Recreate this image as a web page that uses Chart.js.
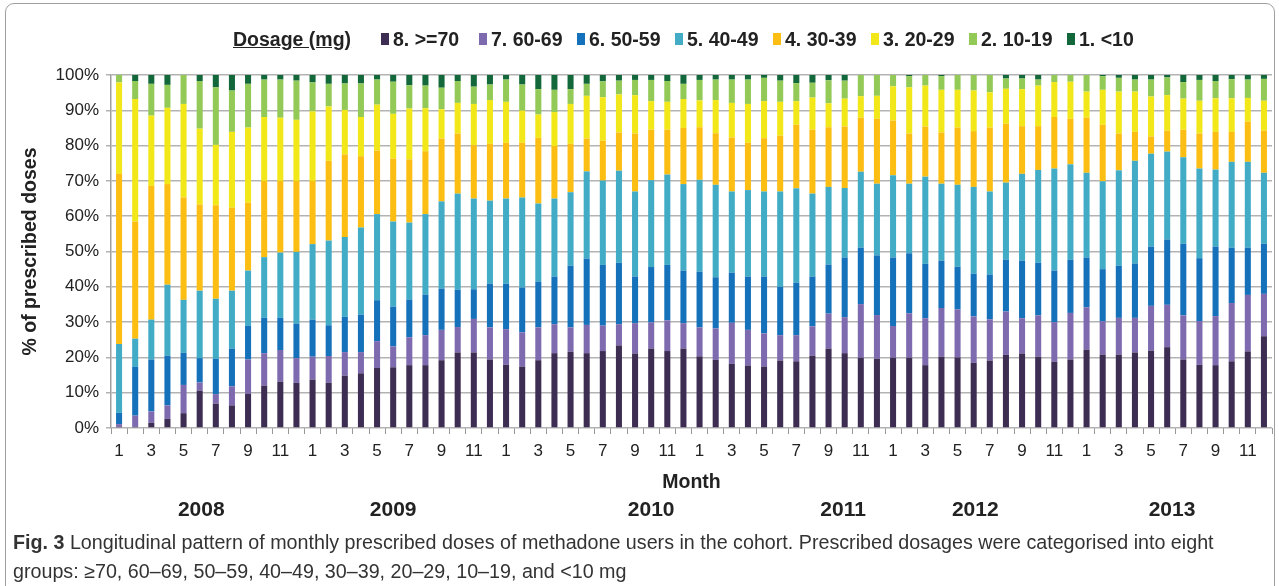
<!DOCTYPE html>
<html>
<head>
<meta charset="utf-8">
<script src="https://cdn.jsdelivr.net/npm/chart.js@4.4.0/dist/chart.umd.min.js"></script>
<style>
body { margin: 0; width: 1279px; height: 586px; overflow: hidden; background: #fff; position: relative;
  font-family: "Liberation Sans Narrow", "Liberation Sans", Arial, sans-serif; }
#frame { position: absolute; left: 5px; top: 3px; width: 1268px; height: 640px; border: 1px solid #a0a0a0; border-radius: 9px; }
#chart { position: absolute; left: 0; top: 0; }
#legend { position: absolute; left: 233px; top: 27px; height: 24px; display: flex; align-items: center; color: #222; font-weight: bold; font-size: 19.5px; }
#legend .ttl { text-decoration: underline; width: 148px; }
#legend .item { display: flex; align-items: center; width: 98px; white-space: nowrap; }
#legend .sw { width: 8px; height: 12px; margin-right: 4px; flex: none; }
#caption { position: absolute; left: 13px; top: 528px; width: 1262px; font-size: 19.7px; line-height: 29px; color: #333; white-space: nowrap; }
</style>
</head>
<body>
<div id="frame"></div>
<canvas id="chart" width="1279" height="586"></canvas>
<div id="legend"><span class="ttl">Dosage (mg)</span></div>
<div id="caption"><b>Fig. 3</b> Longitudinal pattern of monthly prescribed doses of methadone users in the cohort. Prescribed dosages were categorised into eight<br>groups: ≥70, 60–69, 50–59, 40–49, 30–39, 20–29, 10–19, and &lt;10 mg</div>
<script>
// categories
var years = ['2008', '2009', '2010', '2011', '2012', '2013'];
var months = ['1', '2', '3', '4', '5', '6', '7', '8', '9', '10', '11', '12'];

// series (% of prescribed doses), bottom to top
var s70 = [0.3,0.3,1.5,2.6,4.2,10.6,6.9,6.4,9.7,12.0,13.1,12.8, 13.7,12.8,14.8,15.5,17.0,17.2,17.8,17.8,19.2,21.4,21.4,19.4,
  17.9,17.4,19.2,21.2,21.6,21.2,21.8,23.4,21.1,22.5,21.8,22.5, 20.3,19.3,18.2,17.7,17.4,19.1,18.9,20.5,22.5,21.2,19.9,19.6,
  19.9,19.9,17.8,20.2,20.0,18.5,19.1,20.7,21.1,20.2,18.8,19.4, 22.2,20.8,20.8,21.4,21.9,22.9,19.4,17.9,17.8,18.9,21.7,26.0];
var s60 = [0.8,3.2,3.2,3.8,8.0,2.3,2.7,5.4,9.7,9.2,9.0,7.0, 6.5,7.6,6.7,6.0,7.6,5.9,7.9,8.5,8.6,7.2,9.5,9.1,
  10.1,9.7,9.3,8.2,6.9,8.0,7.2,6.0,8.6,7.4,8.7,7.2, 8.2,8.9,11.6,10.1,9.4,7.2,7.4,8.3,9.9,10.2,15.2,12.4,
  9.0,12.6,13.3,13.8,13.6,13.1,11.7,12.3,10.0,11.7,11.2,13.2, 12.0,9.4,10.4,9.8,12.7,12.0,12.5,12.4,13.9,16.5,16.0,12.0];
var s50 = [3.2,13.8,14.7,14.1,9.1,6.9,10.0,10.7,9.6,10.0,9.1,9.8, 10.5,8.7,10.0,10.6,11.6,11.3,10.7,11.5,11.7,10.6,8.4,12.4,
  12.9,12.7,13.0,13.5,17.5,18.8,17.2,17.4,13.2,15.7,15.7,14.9, 15.8,14.5,14.2,15.1,16.1,13.7,14.9,14.1,13.9,16.9,16.0,16.9,
  19.4,17.0,15.4,13.4,12.1,12.1,12.7,14.7,16.3,14.9,14.6,15.1, 14.1,14.8,14.8,15.4,16.8,18.5,20.3,17.8,19.7,15.7,13.4,14.2];
var s40 = [19.5,8.0,11.3,20.1,15.0,19.1,17.0,16.4,15.6,17.2,18.5,20.3, 21.4,24.0,22.6,24.7,24.4,24.1,21.8,22.8,24.7,27.2,25.7,23.5,
  24.1,25.5,22.1,22.1,20.8,24.7,23.9,26.1,24.1,24.6,25.6,24.5, 26.0,26.2,23.0,24.5,24.1,27.0,26.7,23.5,22.0,19.7,21.5,20.3,
  23.3,19.7,24.7,21.8,23.2,24.6,23.5,21.8,24.6,26.3,28.9,27.0, 24.0,24.9,27.0,29.1,26.3,24.9,24.5,25.4,21.8,24.3,24.3,20.1];
var s30 = [48.2,33.2,37.9,28.5,29.0,24.4,26.5,23.5,19.2,21.6,20.3,20.1, 17.9,22.6,23.4,20.2,18.0,17.8,17.9,17.8,17.8,17.0,15.1,16.1,
  15.8,15.5,18.6,14.9,13.7,9.3,11.3,10.8,16.4,14.3,12.7,15.9, 14.9,14.6,15.3,13.4,15.1,15.8,18.0,18.1,16.9,17.4,15.3,18.4,
  15.5,14.2,14.2,14.5,16.2,15.8,18.1,16.7,13.5,12.4,14.6,12.9, 15.6,16.0,10.4,8.2,4.9,5.9,7.8,9.9,10.7,8.5,11.4,11.9];
var s20 = [25.9,34.7,19.9,21.6,26.5,21.5,17.1,21.5,21.3,18.1,17.9,17.3, 19.7,15.4,12.6,11.1,13.0,12.7,14.4,12.2,8.3,8.7,11.7,12.4,
  11.6,9.1,6.6,9.6,11.3,12.1,12.3,10.8,10.9,8.1,7.9,8.2, 7.6,9.4,9.8,11.0,10.5,9.6,6.7,9.1,6.8,7.9,6.1,6.5,
  9.7,13.1,11.6,12.1,10.7,11.5,10.0,9.9,10.5,11.5,9.9,10.5, 7.4,9.9,11.9,11.4,11.3,10.1,8.8,9.3,9.5,9.5,6.7,8.5];
var s10 = [2.1,5.1,9.0,6.5,8.2,13.5,16.3,11.7,12.4,10.6,10.8,11.1, 8.2,6.4,7.5,9.5,7.1,9.1,6.6,6.4,6.1,6.2,4.9,4.4,
  6.3,7.4,7.2,6.3,4.2,3.4,4.5,3.9,4.3,6.0,5.9,4.3, 5.8,5.8,6.6,6.9,6.6,6.0,5.1,4.2,6.5,5.1,6.0,5.9,
  3.2,3.2,3.0,3.9,4.2,4.4,4.9,2.9,3.0,1.7,2.0,1.9, 4.7,3.9,3.9,3.4,4.8,5.0,4.7,5.9,4.9,5.4,5.2,6.2];
var s0 = [0,1.7,2.5,2.8,0,1.7,3.5,4.4,2.5,1.3,1.3,1.6, 2.1,2.5,2.4,2.4,1.3,1.9,2.9,3.0,3.6,1.7,3.3,2.7,
  1.3,2.7,4.0,4.2,4.0,2.5,1.8,1.6,1.4,1.4,1.7,2.5, 1.4,1.3,1.3,1.3,0.8,1.6,2.3,2.2,1.5,1.6,0,0,
  0,0.3,0,0.3,0,0,0,1.0,1.0,1.3,0,0, 0,0.3,0.8,1.3,1.3,0.7,2.0,1.4,1.7,1.2,1.3,1.1];

var seriesNames = ['8. >=70', '7. 60-69', '6. 50-59', '5. 40-49', '4. 30-39', '3. 20-29', '2. 10-19', '1. <10'];
var seriesColors = ['#3d2d53', '#7e6aaf', '#1571b9', '#42acc7', '#fcbe12', '#f2e819', '#93c957', '#12683a'];
var seriesValues = [s70, s60, s50, s40, s30, s20, s10, s0];

var FONT = '"Liberation Sans Narrow", "Liberation Sans", Arial, sans-serif';
Chart.defaults.font.family = FONT;
Chart.defaults.color = '#222';

// labels: one per month
var labels = [];
years.forEach(function (y) {
    months.forEach(function (m) { labels.push(y + '-' + m); });
});

// html legend
var legendEl = document.getElementById('legend');
seriesNames.forEach(function (name, i) {
    var item = document.createElement('span');
    item.className = 'item';
    item.innerHTML = '<span class="sw" style="background:' + seriesColors[i] + '"></span>';
    item.appendChild(document.createTextNode(name));
    legendEl.appendChild(item);
});

// year captions under the month axis (placed like the original text boxes)
var yearPlugin = {
    id: 'yearLabels',
    afterDraw: function (chart) {
        var x = chart.scales.x, c = chart.ctx;
        var at = [5.1, 17.0, 33.0, 44.9, 53.1, 65.3];
        c.save();
        c.font = 'bold 21px ' + FONT;
        c.fillStyle = '#222';
        c.textAlign = 'center';
        c.textBaseline = 'middle';
        years.forEach(function (y, i) {
            c.fillText(y, x.getPixelForValue(at[i]), 510);
        });
        c.restore();
    }
};

new Chart(document.getElementById('chart'), {
    type: 'bar',
    data: {
        labels: labels,
        datasets: seriesValues.map(function (vals, i) {
            return {
                label: seriesNames[i],
                data: vals,
                backgroundColor: seriesColors[i],
                borderWidth: 0,
                categoryPercentage: 0.75,
                barPercentage: 0.5
            };
        })
    },
    options: {
        responsive: false,
        animation: false,
        layout: { padding: { top: 75, right: 7, bottom: 88, left: 0 } },
        plugins: { legend: { display: false }, tooltip: { enabled: false } },
        scales: {
            x: {
                stacked: true,
                grid: { drawOnChartArea: false, offset: true, tickLength: 6, color: '#999', lineWidth: 1 },
                border: { display: false },
                ticks: {
                    autoSkip: false, maxRotation: 0, padding: 7, font: { size: 17 }, color: '#222',
                    callback: function (v, i) { return i % 2 === 0 ? months[i % 12] : ''; }
                },
                title: { display: true, text: 'Month', font: { size: 19.5, weight: 'bold' }, color: '#222', padding: { top: 4, bottom: 4 } },
                afterFit: function (s) { s.height = 70; }
            },
            y: {
                stacked: true, min: 0, max: 100,
                ticks: { stepSize: 10, padding: 7, font: { size: 17 }, color: '#222', callback: function (v) { return v + '%'; } },
                grid: { color: '#b3b3b3', lineWidth: 1.5, tickLength: 5 },
                border: { color: '#a0a0a0', width: 1.5 },
                title: { display: true, text: '% of prescribed doses', font: { size: 19.5, weight: 'bold' }, color: '#222', padding: { top: 19, bottom: 0 } },
                afterFit: function (s) { s.width = 111; }
            }
        }
    },
    plugins: [yearPlugin]
});
</script>
</body>
</html>
